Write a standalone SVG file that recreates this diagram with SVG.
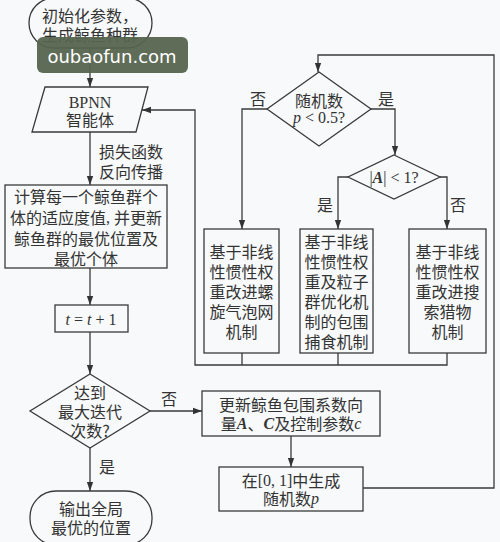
<svg xmlns="http://www.w3.org/2000/svg" width="500" height="542" viewBox="0 0 500 542">
<defs>
<style>
.bg{fill:#f7f9fa}
.sh{fill:none;stroke:#3a3a3a;stroke-width:1.3}
.ln{fill:none;stroke:#3a3a3a;stroke-width:1.3}
.t{font-family:"Noto Sans CJK SC","Noto Sans",sans-serif;font-size:16px;fill:#333;text-anchor:middle;dominant-baseline:central}
.l{text-anchor:start}
.r{font-family:"Liberation Serif",serif}
.i{font-style:italic}
.b{font-weight:bold}
</style>
<marker id="ah" viewBox="0 0 10 10" refX="10" refY="5" markerWidth="9" markerHeight="9" markerUnits="userSpaceOnUse" orient="auto">
<path d="M0,1.5 L10,5 L0,8.5 z" fill="#333"/>
</marker>
</defs>
<rect class="bg" x="0" y="0" width="500" height="542"/>

<g id="connectors">
<path class="ln" d="M90,48 V87" marker-end="url(#ah)"/>
<path class="ln" d="M90,132 V185" marker-end="url(#ah)"/>
<path class="ln" d="M90,268 V305" marker-end="url(#ah)"/>
<path class="ln" d="M90,332 V374" marker-end="url(#ah)"/>
<path class="ln" d="M90,448 V491" marker-end="url(#ah)"/>
<path class="ln" d="M150,411 H202" marker-end="url(#ah)"/>
<path class="ln" d="M291,436 V467" marker-end="url(#ah)"/>
<path class="ln" d="M363,488 H494 V55 H318 V72" marker-end="url(#ah)"/>
<path class="ln" d="M267,109 H242 V229" marker-end="url(#ah)"/>
<path class="ln" d="M371,109 H395 V155" marker-end="url(#ah)"/>
<path class="ln" d="M348,177 H338 V229" marker-end="url(#ah)"/>
<path class="ln" d="M440,177 H447 V229" marker-end="url(#ah)"/>
<path class="ln" d="M242,353 V365 M338,353 V365"/>
<path class="ln" d="M447,353 V365 H195 V110 H142" marker-end="url(#ah)"/>
<text class="t" x="258" y="98">否</text>
<text class="t" x="386" y="98">是</text>
<text class="t" x="325" y="204">是</text>
<text class="t" x="458" y="204">否</text>
<text class="t" x="169" y="398">否</text>
<text class="t" x="107" y="466">是</text>
<text class="t l" x="99" y="151">损失函数<tspan x="99" dy="20">反向传播</tspan></text>
</g>

<g id="start">
<rect class="sh" x="29" y="-2" width="123" height="50" rx="25"/>
<text class="t" x="90" y="15">初始化参数，<tspan x="90" dy="19">生成鲸鱼种群</tspan></text>
</g>

<g id="bpnn">
<path class="sh" d="M45,87 H148 L136,132 H32 Z"/>
<text class="t" x="90" y="102"><tspan class="r">BPNN</tspan><tspan x="90" dy="17">智能体</tspan></text>
</g>

<g id="fitness">
<rect class="sh" x="5" y="185" width="162" height="83"/>
<text class="t" x="86" y="196">计算每一个鲸鱼群个<tspan x="86" dy="21">体的适应度值<tspan class="r">, </tspan>并更新</tspan><tspan x="86" dy="21">鲸鱼群的最优位置及</tspan><tspan x="86" dy="20">最优个体</tspan></text>
</g>

<g id="increment">
<rect class="sh" x="55" y="305" width="73" height="27"/>
<text class="t r" x="91" y="319" font-size="17"><tspan class="i">t</tspan> = <tspan class="i">t</tspan> + 1</text>
</g>

<g id="maxiter">
<path class="sh" d="M90,374 L150,411 L90,448 L30,411 Z"/>
<text class="t" x="90" y="392">达到<tspan x="90" dy="19">最大迭代</tspan><tspan x="90" dy="19">次数?</tspan></text>
</g>

<g id="end">
<rect class="sh" x="30" y="491" width="122" height="54" rx="26"/>
<text class="t" x="91" y="508">输出全局<tspan x="91" dy="19">最优的位置</tspan></text>
</g>

<g id="update">
<rect class="sh" x="202" y="391" width="178" height="45"/>
<text class="t" x="291" y="404">更新鲸鱼包围系数向<tspan x="291" dy="19">量<tspan class="r b i">A</tspan>、<tspan class="r b i">C</tspan>及控制参数<tspan class="r i">c</tspan></tspan></text>
</g>

<g id="random">
<rect class="sh" x="219" y="467" width="144" height="44"/>
<text class="t" x="291" y="480">在<tspan class="r">[0, 1]</tspan>中生成<tspan x="291" dy="18">随机数<tspan class="r i">p</tspan></tspan></text>
</g>

<g id="pdecision">
<path class="sh" d="M319,72 L371,109 L319,146 L267,109 Z"/>
<text class="t" x="319" y="100">随机数<tspan x="319" dy="17" class="r"><tspan class="i">p</tspan> &lt; 0.5?</tspan></text>
</g>

<g id="adecision">
<path class="sh" d="M394,155 L440,177 L394,199 L348,177 Z"/>
<text class="t r" x="394" y="177">|<tspan class="b i">A</tspan>| &lt; 1?</text>
</g>

<g id="spiral">
<rect class="sh" x="204" y="229" width="75" height="124"/>
<text class="t" x="241.5" y="251">基于非线<tspan x="241.5" dy="20">性惯性权</tspan><tspan x="241.5" dy="20">重改进螺</tspan><tspan x="241.5" dy="20">旋气泡网</tspan><tspan x="241.5" dy="20">机制</tspan></text>
</g>

<g id="encircle">
<rect class="sh" x="300" y="229" width="73" height="124"/>
<text class="t" x="336.5" y="241">基于非线<tspan x="336.5" dy="20">性惯性权</tspan><tspan x="336.5" dy="20">重及粒子</tspan><tspan x="336.5" dy="20">群优化机</tspan><tspan x="336.5" dy="20">制的包围</tspan><tspan x="336.5" dy="20">捕食机制</tspan></text>
</g>

<g id="search">
<rect class="sh" x="409" y="229" width="77" height="124"/>
<text class="t" x="447.5" y="251">基于非线<tspan x="447.5" dy="20">性惯性权</tspan><tspan x="447.5" dy="20">重改进搜</tspan><tspan x="447.5" dy="20">索猎物</tspan><tspan x="447.5" dy="20">机制</tspan></text>
</g>

<g id="watermark">
<rect x="37" y="37" width="151" height="36" rx="6" fill="#56654f" fill-opacity="0.95"/>
<text x="112" y="56" font-family="DejaVu Sans,sans-serif" font-size="18" fill="#ffffff" text-anchor="middle" dominant-baseline="central">oubaofun.com</text>
</g>
</svg>
